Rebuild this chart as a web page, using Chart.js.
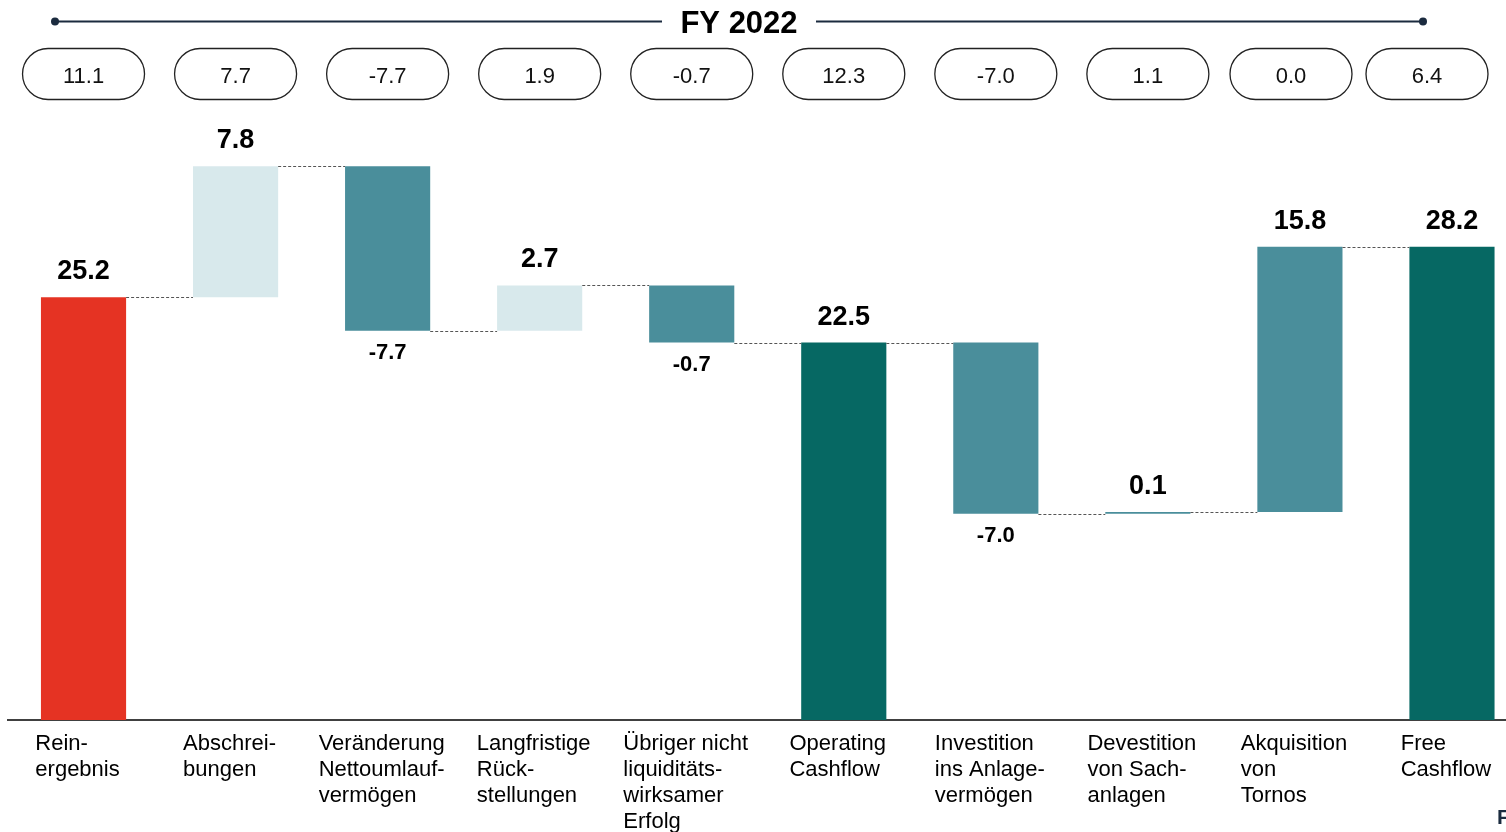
<!DOCTYPE html>
<html lang="de">
<head>
<meta charset="utf-8">
<title>Free Cashflow FY 2022</title>
<script src="https://cdn.jsdelivr.net/npm/chart.js@4.4.1/dist/chart.umd.min.js"></script>
<style>
  html, body { margin: 0; padding: 0; background: #fff; overflow: hidden; }
  #wrap { width: 1528px; height: 832px; }
</style>
</head>
<body>
<div id="wrap"><canvas id="fcfChart"></canvas></div>
<script>
// categories (multi-line, as on the slide)
const categories = [
  ['Rein-', 'ergebnis'],
  ['Abschrei-', 'bungen'],
  ['Veränderung', 'Nettoumlauf-', 'vermögen'],
  ['Langfristige', 'Rück-', 'stellungen'],
  ['Übriger nicht', 'liquiditäts-', 'wirksamer', 'Erfolg'],
  ['Operating', 'Cashflow'],
  ['Investition', 'ins Anlage-', 'vermögen'],
  ['Devestition', 'von Sach-', 'anlagen'],
  ['Akquisition', 'von', 'Tornos'],
  ['Free', 'Cashflow']
];

// bar extents as drawn (start -> end)
const barStart = [0, 25.2, 33.0, 23.2, 25.9, 0, 22.5, 12.3, 12.4, 0];
const barEnd = [25.2, 33.0, 23.2, 25.9, 22.5, 22.5, 12.3, 12.4, 28.2, 28.2];

// printed labels
const valueLabels = ['25.2', '7.8', '-7.7', '2.7', '-0.7', '22.5', '-7.0', '0.1', '15.8', '28.2'];
const priorYear = ['11.1', '7.7', '-7.7', '1.9', '-0.7', '12.3', '-7.0', '1.1', '0.0', '6.4'];
const barType = ['result', 'plus', 'minus', 'plus', 'minus', 'subtotal', 'invest', 'invest', 'invest', 'subtotal'];

const typeColors = {
  result: '#E53323',
  plus: '#D8E9EC',
  minus: '#4A8E9B',
  invest: '#4A8E9B',
  subtotal: '#066863'
};

const FONT = '"Liberation Sans", Arial, sans-serif';
const NAVY = '#1B2B3F';

function roundRect(ctx, x, y, w, h, r) {
  ctx.beginPath();
  ctx.moveTo(x + r, y);
  ctx.lineTo(x + w - r, y);
  ctx.arc(x + w - r, y + r, r, -Math.PI / 2, Math.PI / 2);
  ctx.lineTo(x + r, y + h);
  ctx.arc(x + r, y + r, r, Math.PI / 2, Math.PI * 1.5);
  ctx.closePath();
}

const waterfallDecor = {
  id: 'waterfallDecor',
  afterDatasetsDraw(chart) {
    const ctx = chart.ctx;
    const y = chart.scales.y;
    const bars = chart.getDatasetMeta(0).data;
    ctx.save();

    // dashed connectors
    ctx.strokeStyle = '#555';
    ctx.lineWidth = 1;
    ctx.setLineDash([3, 2]);
    for (let i = 0; i < bars.length - 1; i++) {
      const a = bars[i], b = bars[i + 1];
      const py = Math.round(y.getPixelForValue(barEnd[i])) + 0.5;
      ctx.beginPath();
      ctx.moveTo(a.x + a.width / 2, py);
      ctx.lineTo(b.x - b.width / 2, py);
      ctx.stroke();
    }
    ctx.setLineDash([]);

    // value labels
    ctx.fillStyle = '#000';
    ctx.textAlign = 'center';
    ctx.textBaseline = 'alphabetic';
    bars.forEach((bar, i) => {
      const txt = valueLabels[i];
      const top = y.getPixelForValue(Math.max(barStart[i], barEnd[i]));
      const bottom = y.getPixelForValue(Math.min(barStart[i], barEnd[i]));
      if (txt.startsWith('-')) {
        ctx.font = 'bold 22px ' + FONT;
        ctx.fillText(txt, bar.x, bottom + 28.5);
      } else {
        ctx.font = 'bold 27px ' + FONT;
        ctx.fillText(txt, bar.x, top - 18);
      }
    });

    // prior-year pills, pushed left where they would run off the slide
    const pillW = 122, pillH = 51, gap = 14;
    const centers = bars.map(b => b.x);
    let limit = 1488;
    for (let i = centers.length - 1; i >= 0; i--) {
      if (centers[i] + pillW / 2 > limit) centers[i] = limit - pillW / 2;
      limit = centers[i] - pillW / 2 - gap;
    }
    ctx.strokeStyle = '#222';
    ctx.lineWidth = 1.3;
    ctx.font = '22px ' + FONT;
    ctx.fillStyle = '#111';
    centers.forEach((cx, i) => {
      roundRect(ctx, cx - pillW / 2, 48.5, pillW, pillH, pillH / 2);
      ctx.stroke();
      ctx.fillText(priorYear[i], cx, 82.5);
    });

    // header line with title
    ctx.strokeStyle = NAVY;
    ctx.fillStyle = NAVY;
    ctx.lineWidth = 2;
    ctx.beginPath();
    ctx.moveTo(55, 21.5); ctx.lineTo(662, 21.5);
    ctx.moveTo(816, 21.5); ctx.lineTo(1423, 21.5);
    ctx.stroke();
    [55, 1423].forEach(px => {
      ctx.beginPath();
      ctx.arc(px, 21.5, 4, 0, Math.PI * 2);
      ctx.fill();
    });
    ctx.fillStyle = '#000';
    ctx.font = 'bold 31px ' + FONT;
    ctx.fillText('FY 2022', 739, 32.5);

    // category labels: left-aligned lines, block centred under the bar
    ctx.font = '22px ' + FONT;
    ctx.textAlign = 'left';
    ctx.fillStyle = '#000';
    bars.forEach((bar, i) => {
      const lines = categories[i];
      const w = Math.max(...lines.map(l => ctx.measureText(l).width));
      const lx = bar.x - w / 2 - 6;
      lines.forEach((l, k) => ctx.fillText(l, lx, 750 + k * 26));
    });

    // clipped footer text at the right edge
    ctx.fillStyle = NAVY;
    ctx.font = 'bold 21px ' + FONT;
    ctx.fillText('F', 1497, 824);

    ctx.restore();
  }
};

new Chart(document.getElementById('fcfChart'), {
  type: 'bar',
  data: {
    labels: categories,
    datasets: [{
      data: barStart.map((s, i) => [s, barEnd[i]]),
      backgroundColor: barType.map(t => typeColors[t]),
      borderWidth: 0,
      barPercentage: 0.56,
      categoryPercentage: 1
    }]
  },
  plugins: [waterfallDecor],
  options: {
    responsive: true,
    maintainAspectRatio: false,
    animation: false,
    layout: {
      padding: { top: 116, bottom: 112, left: 7.5, right: 0 }
    },
    plugins: {
      legend: { display: false },
      tooltip: { enabled: false }
    },
    scales: {
      x: {
        grid: { display: false, drawTicks: false },
        border: { display: true, color: '#404040', width: 2 },
        ticks: { display: false }
      },
      y: {
        display: false,
        min: 0,
        max: 36
      }
    }
  }
});
</script>
</body>
</html>
